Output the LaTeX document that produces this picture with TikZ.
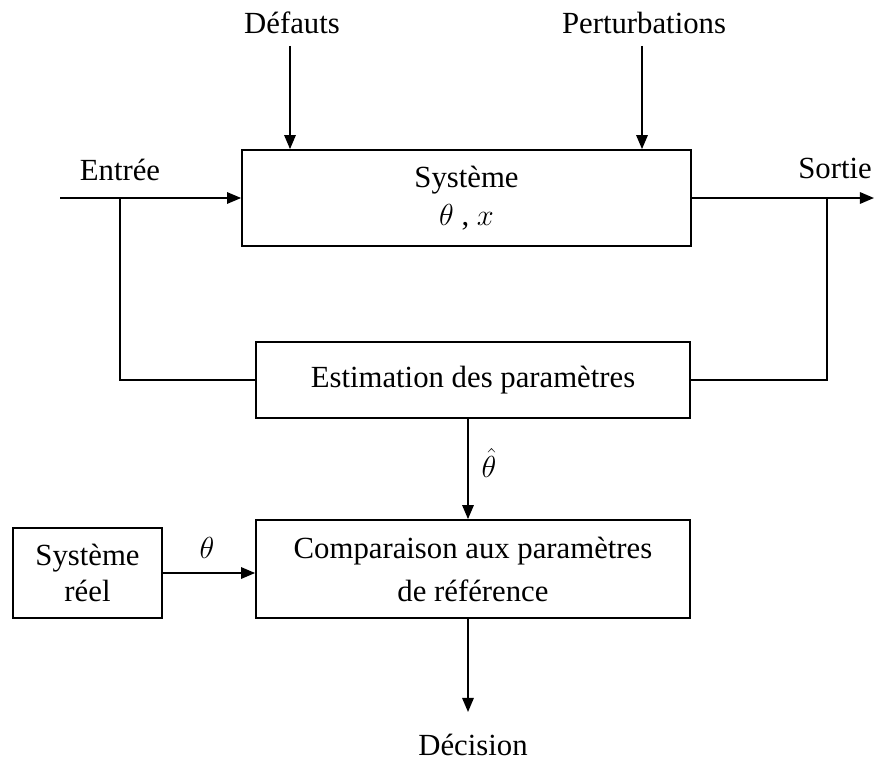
\documentclass[tikz,border=0pt]{standalone}
\usepackage{fontspec}
\setmainfont{Liberation Serif}
\usetikzlibrary{arrows.meta}
\begin{document}
\begin{tikzpicture}[x=0.02cm,y=-0.02cm,
  every node/.style={font=\fontsize{17.5}{22.5}\selectfont},
  blockbox/.style={draw,line width=1pt,inner sep=0pt,align=center},
  wire/.style={line width=1pt},
  arr/.style={wire,-{Triangle[length=8pt,width=6.5pt]}}]
\useasboundingbox (0,0) rectangle (874,760);

% blocks
\node[blockbox,minimum width=449*0.02cm,minimum height=96*0.02cm] (sys) at (466.5,198)
  {Système\\[-1pt]$\theta$ , $x$};
\node[blockbox,minimum width=434*0.02cm,minimum height=76*0.02cm] (est) at (473,380)
  {Estimation des paramètres};
\node[blockbox,minimum width=434*0.02cm,minimum height=98*0.02cm] (cmp) at (473,569)
  {Comparaison aux paramètres\\[2pt]de référence};
\node[blockbox,minimum width=149*0.02cm,minimum height=90*0.02cm] (reel) at (87.5,573)
  {Système\\[-2pt]réel};

% labels
\node (def) at (292,23) {Défauts};
\node (pert) at (644,23) {Perturbations};
\node (entree) at (120,170) {Entrée};
\node (sortie) at (835,168) {Sortie};
\node (dec) at (473,745) {Décision};
\node (thh) at (489,463) {$\hat{\theta}$};
\node (th) at (207,548) {$\theta$};

% free ends and branch points
\coordinate (d0) at (290,46);
\coordinate (p0) at (642,46);
\coordinate (in0) at (60,198);
\coordinate (out1) at (874,198);
\coordinate (bl) at (120,198);
\coordinate (br) at (827,198);
\coordinate (dec0) at (468,712);

% connectors
\draw[arr] (d0) -- (d0 |- sys.north);
\draw[arr] (p0) -- (p0 |- sys.north);
\draw[arr] (in0) -- (sys.west);
\draw[arr] (sys.east) -- (out1);
\draw[wire] (bl) |- (est.west);
\draw[wire] (br) |- (est.east);
\draw[arr] ([xshift=-0.1cm]est.south) -- ([xshift=-0.1cm]cmp.north);
\draw[arr] (reel.east) -- (reel.east -| cmp.west);
\draw[arr] ([xshift=-0.1cm]cmp.south) -- (dec0);
\end{tikzpicture}
\end{document}
